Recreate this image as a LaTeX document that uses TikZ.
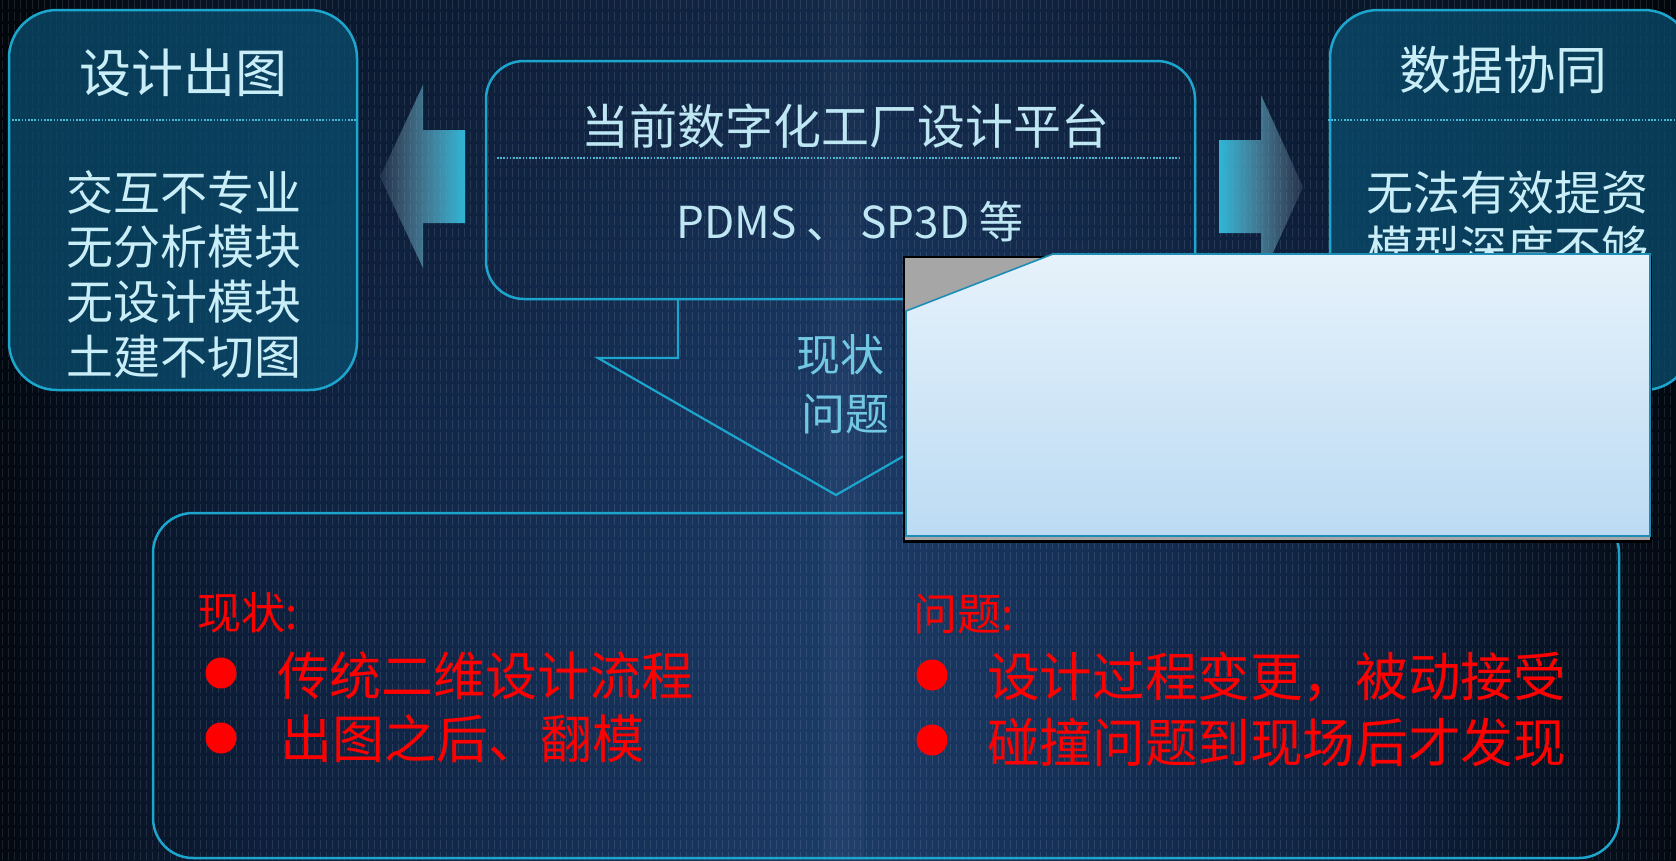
\documentclass[tikz,border=0pt]{standalone}
\usepackage{fontspec}
\setmainfont{Noto Sans CJK SC}
\usetikzlibrary{fadings}
\definecolor{bgdark}{HTML}{030911}
\definecolor{bgmid}{HTML}{0D1F3C}
\definecolor{bgcenter}{HTML}{1B3B68}
\definecolor{txtlight}{HTML}{C9EEF7}
\definecolor{txtcenter}{HTML}{BEE7F3}
\definecolor{cyanline}{HTML}{1CA6CD}
\definecolor{boxfill}{HTML}{0A4D6E}
\definecolor{arrowlbl}{HTML}{72C8E3}
\definecolor{arrowgrey}{HTML}{9AAFBF}
\definecolor{arrowcyan}{HTML}{2FB6D8}
\definecolor{popuptop}{HTML}{E6F2FB}
\definecolor{popupbot}{HTML}{BCDBF3}
\definecolor{popupedge}{HTML}{1E8DB5}
\definecolor{popupgrey}{HTML}{A6A6A6}
\newcommand{\myfs}[1]{\fontsize{#1pt}{#1pt}\selectfont}
\tikzfading[name=fadetoleft, left color=transparent!85, right color=transparent!0]
\tikzfading[name=fadetoright, left color=transparent!0, right color=transparent!85]
\tikzfading[name=fadedown, top color=transparent!0, bottom color=transparent!100]
\tikzset{
  boxline/.style={draw=cyanline, line width=2.5pt},
  sidebox/.style={boxline, fill=boxfill, fill opacity=0.75, rounded corners=48pt},
  dotline/.style={draw=cyanline!80!white, line width=1.6pt, dash pattern=on 1.6pt off 1.6pt},
  stripe/.style={draw=white, opacity=0.1, line width=1pt, dash pattern=on 9pt off 3pt},
  lighttxt/.style={inner sep=0pt, text=txtlight},
  redtxt/.style={inner sep=0pt, text=red, anchor=west},
  reddot/.style={circle, fill=red, inner sep=0pt, minimum size=31pt},
}
\begin{document}
\begin{tikzpicture}[x=1pt,y=-1pt]
\useasboundingbox (0,0) rectangle (1676,860);
% background
\shade[left color=bgdark, right color=bgmid] (0,0) rectangle (261,860);
\shade[left color=bgmid, right color=bgcenter] (260,0) rectangle (841,860);
\shade[left color=bgcenter, right color=bgmid] (840,0) rectangle (1401,860);
\shade[left color=bgmid, right color=bgdark] (1400,0) rectangle (1676,860);
\fill[bgcenter!80!white, opacity=0.12] (822,0) rectangle (864,860);
\fill[black, opacity=0.3, path fading=fadedown] (0,0) rectangle (1676,420);
\foreach \i in {0,...,279} \draw[stripe] ({\i*6+2},0) -- ({\i*6+2},860);

% left box
\path[sidebox] (9,10) rectangle (357,390);
\draw[dotline] (12,120) -- (357,120);
\node[lighttxt] (ltitle) at (183,73) {\myfs{52}设计出图};
\node[lighttxt] (l1) at (184,192) {\myfs{47}交互不专业};
\node[lighttxt] (l2) at (184,247) {\myfs{47}无分析模块};
\node[lighttxt] (l3) at (184,302) {\myfs{47}无设计模块};
\node[lighttxt] (l4) at (184,357) {\myfs{47}土建不切图};

% right box
\path[sidebox] (1330,10) rectangle (1692,390);
\draw[dotline] (1328,120) -- (1676,120);
\node[lighttxt] (rtitle) at (1503,70) {\myfs{52}数据协同};
\node[lighttxt] (r1) at (1507,193) {\myfs{47}无法有效提资};
\node[lighttxt] (r2) at (1507,248) {\myfs{47}模型深度不够};

% side arrows
\shade[left color=arrowgrey, right color=arrowcyan, path fading=fadetoleft]
  (380,177) -- (423,85) -- (423,130) -- (465,130) -- (465,223) -- (423,223) -- (423,268) -- cycle;
\shade[left color=arrowcyan, right color=arrowgrey, path fading=fadetoright]
  (1303,187) -- (1261,95) -- (1261,140) -- (1219,140) -- (1219,233) -- (1261,233) -- (1261,279) -- cycle;

% center box
\draw[boxline, rounded corners=38pt] (486,61) rectangle (1195,299);
\draw[dotline] (497,158) -- (1180,158);
\node[inner sep=0pt, text=txtcenter] (ctitle) at (845,126) {\myfs{48}当前数字化工厂设计平台};
\node[inner sep=0pt, text=txtcenter] (csub) at (850,222) {\myfs{44}PDMS 、 SP3D 等};

% down arrow outline
\coordinate (dl) at (678,299);
\coordinate (dr) at (994,299);
\draw[boxline, line width=2.2pt, line join=miter] (dl) -- (678,358) -- (598,358) -- (836,495) -- (1074,358) -- (994,358) -- (dr);
\node[inner sep=0pt, text=arrowlbl] (a1) at (840,355) {\myfs{44}现状};
\node[inner sep=0pt, text=arrowlbl] (a2) at (845,414) {\myfs{44}问题};

% bottom box
\draw[boxline, rounded corners=40pt] (153,513) rectangle (1619,858);
\node[redtxt] (h1) at (197,613) {\myfs{44}现状:};
\node[reddot] (d1) at (221,673) {};
\node[redtxt] (t1) at (277,676) {\myfs{52}传统二维设计流程};
\node[reddot] (d2) at (221,738) {};
\node[redtxt] (t2) at (280,739) {\myfs{52}出图之后、翻模};
\node[redtxt] (h2) at (913,614) {\myfs{44}问题:};
\node[reddot] (d3) at (932,675) {};
\node[redtxt] (t3) at (987,677) {\myfs{52.6}设计过程变更，被动接受};
\node[reddot] (d4) at (932,740) {};
\node[redtxt] (t4) at (987,742) {\myfs{52.6}碰撞问题到现场后才发现};

% popup window
\fill[black] (903,256) rectangle (1652,543);
\fill[popupgrey] (905,258) rectangle (1650,540);
\shade[top color=popuptop, bottom color=popupbot, draw=popupedge, line width=1.6pt]
  (1053,254) -- (1650,254) -- (1650,536) -- (906,536) -- (906,311) -- cycle;
\end{tikzpicture}
\end{document}
